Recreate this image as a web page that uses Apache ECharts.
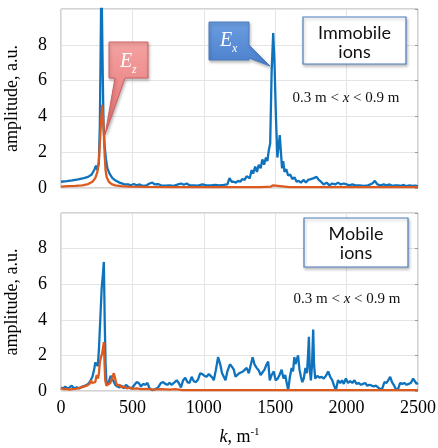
<!DOCTYPE html>
<html>
<head>
<meta charset="utf-8">
<script src="https://cdn.jsdelivr.net/npm/echarts@6/dist/echarts.min.js"></script>
<style>
	html, body { margin: 0; padding: 0; background: #fff; }
	#chart { width: 438px; height: 448px; }
</style>
</head>
<body>
<div id="chart"></div>
<script>
	// k [1/m], amplitude [a.u.]
	var immobileEx = [[0,0.35],[40,0.38],[80,0.42],[120,0.48],[160,0.55],[190,0.62],[215,0.75],[235,1.05],[245,1.25],[255,1.0],[265,1.4],[272,3.5],[278,8],[283,12],[288,12],[293,6],[298,3.5],[305,2.4],[315,1.6],[325,1.1],[340,0.8],[360,0.55],[385,0.4],[410,0.3],[440,0.22],[470,0.2],[490,0.15],[510,0.22],[530,0.15],[550,0.2],[570,0.12],[600,0.15],[620,0.25],[640,0.3],[655,0.2],[680,0.22],[700,0.15],[730,0.13],[760,0.15],[790,0.12],[820,0.2],[840,0.25],[860,0.18],[880,0.25],[900,0.15],[930,0.15],[960,0.13],[990,0.2],[1020,0.15],[1050,0.15],[1080,0.17],[1110,0.15],[1140,0.17],[1165,0.2],[1180,0.55],[1195,0.35],[1210,0.35],[1225,0.3],[1240,0.4],[1255,0.35],[1270,0.5],[1285,0.45],[1300,0.65],[1312,0.75],[1322,0.55],[1335,1.0],[1345,0.8],[1360,1.2],[1372,0.9],[1385,1.3],[1398,1.1],[1410,1.6],[1422,1.3],[1435,1.7],[1445,1.5],[1455,2.1],[1465,2.5],[1475,6.5],[1486,8.65],[1495,7],[1505,4],[1515,1.7],[1522,2.2],[1532,2.95],[1540,2.0],[1548,1.1],[1556,1.5],[1565,0.9],[1578,1.05],[1590,0.7],[1605,0.75],[1620,0.5],[1635,0.6],[1650,0.35],[1665,0.4],[1680,0.3],[1700,0.45],[1715,0.3],[1730,0.45],[1750,0.5],[1770,0.55],[1790,0.62],[1805,0.45],[1820,0.35],[1840,0.2],[1860,0.3],[1880,0.15],[1900,0.25],[1920,0.2],[1940,0.3],[1960,0.2],[1980,0.25],[2000,0.2],[2020,0.15],[2040,0.2],[2060,0.15],[2090,0.15],[2120,0.12],[2150,0.15],[2180,0.25],[2198,0.4],[2215,0.2],[2240,0.15],[2260,0.2],[2280,0.15],[2300,0.2],[2320,0.12],[2340,0.15],[2360,0.15],[2380,0.12],[2400,0.17],[2420,0.1],[2440,0.15],[2460,0.12],[2480,0.13],[2500,0.1]];
	var immobileEz = [[0,0.08],[50,0.1],[100,0.12],[150,0.15],[190,0.22],[220,0.35],[240,0.55],[255,0.9],[265,1.5],[272,2.5],[280,3.6],[288,4.65],[294,4.0],[300,3.0],[306,1.8],[312,1.0],[320,0.6],[335,0.35],[355,0.22],[380,0.15],[420,0.1],[480,0.08],[600,0.06],[800,0.05],[1000,0.05],[1200,0.05],[1400,0.05],[1470,0.08],[1486,0.15],[1500,0.08],[1600,0.05],[2000,0.05],[2500,0.05]];
	var mobileEx = [[0,0.2],[15,0.15],[30,0.25],[45,0.15],[60,0.2],[75,0.3],[90,0.15],[110,0.2],[130,0.15],[150,0.25],[170,0.3],[190,0.4],[205,0.55],[220,0.8],[232,1.2],[240,1.6],[250,1.55],[258,1.4],[266,2.4],[275,4.0],[285,5.8],[293,6.5],[300,7.25],[306,4.0],[312,1.5],[318,0.5],[328,0.35],[338,0.6],[348,0.85],[358,0.9],[368,0.55],[380,0.35],[395,0.25],[410,0.2],[425,0.3],[440,0.15],[455,0.35],[470,0.25],[485,0.15],[500,0.2],[515,0.35],[530,0.5],[545,0.45],[560,0.25],[575,0.4],[590,0.35],[605,0.45],[620,0.15],[640,0.05],[660,0.1],[680,0.2],[700,0.45],[715,0.5],[730,0.4],[745,0.35],[760,0.45],[775,0.35],[790,0.45],[810,0.6],[825,0.45],[840,0.2],[855,0.6],[870,0.75],[885,0.5],[900,0.45],[915,0.8],[930,0.55],[945,0.5],[960,0.65],[975,1.0],[990,0.95],[1005,0.85],[1020,0.8],[1035,0.95],[1045,1.05],[1060,0.75],[1070,0.6],[1085,1.2],[1100,1.9],[1115,1.5],[1128,1.0],[1140,0.8],[1152,0.6],[1165,1.1],[1183,1.5],[1198,1.35],[1210,1.2],[1222,0.8],[1235,0.75],[1248,1.0],[1262,0.95],[1275,1.1],[1288,1.15],[1300,1.3],[1315,1.0],[1330,1.5],[1342,1.9],[1355,1.5],[1370,1.3],[1385,1.15],[1398,0.9],[1410,0.8],[1425,1.2],[1440,1.5],[1451,1.65],[1462,0.6],[1475,0.9],[1490,1.1],[1503,0.6],[1518,0.7],[1530,0.9],[1545,1.2],[1558,0.7],[1570,0.9],[1582,0.4],[1591,0.05],[1603,0.8],[1615,1.3],[1625,1.1],[1634,1.9],[1642,1.5],[1650,1.4],[1660,2.0],[1670,1.2],[1680,0.8],[1690,0.5],[1700,0.7],[1712,1.3],[1722,1.0],[1730,2.0],[1736,3.05],[1742,1.2],[1750,0.6],[1758,1.5],[1766,3.45],[1772,1.5],[1780,0.7],[1795,0.85],[1810,0.75],[1825,0.8],[1840,0.7],[1855,0.85],[1871,1.1],[1885,0.8],[1900,0.6],[1912,0.3],[1925,0.05],[1940,0.6],[1955,0.45],[1968,0.6],[1980,0.4],[1995,0.7],[2010,0.45],[2025,0.55],[2040,0.45],[2055,0.6],[2070,0.4],[2085,0.45],[2100,0.35],[2115,0.4],[2130,0.45],[2145,0.3],[2160,0.35],[2175,0.3],[2190,0.25],[2205,0.3],[2220,0.2],[2235,0.1],[2250,0.15],[2265,0.5],[2280,0.45],[2295,0.65],[2305,0.8],[2318,0.5],[2330,0.35],[2345,0.1],[2360,0.1],[2375,0.45],[2390,0.4],[2405,0.45],[2420,0.35],[2435,0.4],[2450,0.45],[2466,0.7],[2480,0.6],[2490,0.4],[2500,0.45]];
	var mobileEz = [[0,0.15],[20,0.1],[40,0.12],[60,0.08],[80,0.1],[100,0.12],[120,0.15],[140,0.2],[160,0.25],[180,0.3],[200,0.4],[210,0.6],[218,0.45],[228,0.35],[240,0.5],[250,0.9],[258,0.7],[265,0.95],[272,1.6],[280,1.9],[288,2.1],[294,2.0],[300,2.75],[305,1.5],[310,0.6],[318,0.3],[330,0.3],[345,0.45],[358,0.5],[370,1.0],[378,0.95],[385,0.5],[395,0.3],[410,0.35],[425,0.2],[440,0.25],[460,0.15],[480,0.2],[500,0.12],[530,0.15],[560,0.1],[600,0.12],[640,0.08],[700,0.1],[760,0.08],[800,0.1],[850,0.05],[1000,0.05],[1500,0.05],[2000,0.05],[2500,0.05]];

	var kTicks = [0, 500, 1000, 1500, 2000, 2500];
	var ampTicks = [0, 2, 4, 6, 8];   // 10 is the top edge, no label

	var serif = 'Liberation Serif';
	var blue = '#0f72bd';
	var red = '#dd5a1e';

	var myChart = echarts.init(document.getElementById('chart'));

	// same rich setup that came out serif for the range text
	var serifRich = {
		t: { fontFamily: serif, fontSize: 18, fontStyle: 'normal', fill: '#000' },
		i: { fontFamily: serif, fontSize: 18, fontStyle: 'italic', fill: '#000' },
		s: { fontFamily: serif, fontSize: 11, fontStyle: 'normal', fill: '#000', padding: [0, 0, 9, 0] }
	};

	function xAx(idx) {
		return {
			type: 'value', gridIndex: idx, min: 0, max: 2500, interval: 500,
			axisLine: { show: false },
			axisTick: { show: false },
			axisLabel: { show: false },
			splitLine: { show: true, lineStyle: { color: '#e4e4e4', width: 1 } }
		};
	}

	function yAx(idx) {
		return {
			type: 'value', gridIndex: idx, min: 0, max: 10, interval: 2,
			axisLine: { show: false },
			axisTick: { show: false },
			axisLabel: { show: false },
			splitLine: { show: true, lineStyle: { color: '#e4e4e4', width: 1 } }
		};
	}

	// inward ticks on the right frame edge
	function yRight(idx) {
		return {
			type: 'value', gridIndex: idx, min: 0, max: 10, interval: 2, position: 'right',
			axisLine: { show: false },
			axisTick: { show: true, inside: true, length: 3, lineStyle: { color: '#999' } },
			axisLabel: { show: false },
			splitLine: { show: false }
		};
	}

	function lineSeries(name, idx, data, color) {
		return {
			name: name, type: 'line', xAxisIndex: idx, yAxisIndex: idx * 2,
			data: data, showSymbol: false, symbol: 'none', clip: true,
			lineStyle: { color: color, width: 2.3 }, z: 3
		};
	}

	function textBox(x, y, w, h, lines, top) {
		var els = [{
			type: 'rect', shape: { x: x, y: y, width: w, height: h },
			style: { fill: '#fff', stroke: '#4f7fbb', lineWidth: 1.2,
				shadowBlur: 3, shadowOffsetX: 1, shadowOffsetY: 2, shadowColor: 'rgba(0,0,0,0.25)' },
			z: 20
		}];
		lines.forEach(function (t, i) {
			els.push({
				type: 'text', x: x + w / 2, y: top + i * 19, z: 21,
				style: { text: '{b|' + t + '}', align: 'center', verticalAlign: 'middle',
					rich: { b: { fontFamily: 'Lato', fontSize: 18, fill: '#111' } } }
			});
		});
		return els;
	}

	function rangeText(cx, cy) {
		return {
			type: 'text', x: cx, y: cy, z: 21,
			style: {
				text: '{n|0.3 m < }{i|x}{n| < 0.9 m}', align: 'center', verticalAlign: 'middle',
				rich: {
					n: { fontFamily: serif, fontSize: 15, fill: '#111' },
					i: { fontFamily: serif, fontSize: 15, fontStyle: 'italic', fill: '#111' }
				}
			}
		};
	}

	function callout(points, c1, c2, stroke, ex, ey, sub) {
		return [{
			type: 'polygon', shape: { points: points }, z: 22,
			style: {
				fill: new echarts.graphic.LinearGradient(0, 0, 0, 1, [
					{ offset: 0, color: c1 }, { offset: 1, color: c2 }
				]),
				stroke: stroke, lineWidth: 1,
				shadowBlur: 3, shadowOffsetX: 1, shadowOffsetY: 2, shadowColor: 'rgba(0,0,0,0.25)'
			}
		}, {
			type: 'text', x: ex, y: ey, z: 23,
			style: { text: 'E', fontFamily: serif, fontSize: 20, fontStyle: 'italic', fill: '#fff',
				align: 'left', verticalAlign: 'middle' }
		}, {
			type: 'text', x: ex + 12, y: ey + 8, z: 23,
			style: { text: sub, fontFamily: serif, fontSize: 12, fontStyle: 'italic', fill: '#fff',
				align: 'left', verticalAlign: 'middle' }
		}];
	}

	function serifText(x, y, text, align, vAlign, rot) {
		return {
			type: 'text', x: x, y: y, rotation: rot || 0, z: 22,
			style: { text: text, align: align, verticalAlign: vAlign, rich: serifRich }
		};
	}

	myChart.setOption({
		backgroundColor: '#fff',
		animation: false,
		grid: [
			{ left: 61, top: 9, width: 357, height: 179, show: true, borderColor: '#a8a8a8', borderWidth: 1, backgroundColor: '#fff' },
			{ left: 61, top: 213, width: 357, height: 178, show: true, borderColor: '#a8a8a8', borderWidth: 1, backgroundColor: '#fff' }
		],
		xAxis: [xAx(0), xAx(1)],
		yAxis: [yAx(0), yRight(0), yAx(1), yRight(1)],
		series: [
			lineSeries('Ex', 0, immobileEx, blue),
			lineSeries('Ez', 0, immobileEz, red),
			lineSeries('Ex', 1, mobileEx, blue),
			lineSeries('Ez', 1, mobileEz, red)
		]
	});

	// axis texts placed through the axes' own scales
	var axisTexts = [];
	kTicks.forEach(function (k) {
		var p = myChart.convertToPixel({ xAxisIndex: 1, yAxisIndex: 2 }, [k, 0]);
		axisTexts.push(serifText(p[0], p[1] + 8, '{t|' + k + '}', 'center', 'top'));
	});
	[0, 1].forEach(function (g) {
		ampTicks.forEach(function (a) {
			var p = myChart.convertToPixel({ xAxisIndex: g, yAxisIndex: g * 2 }, [0, a]);
			axisTexts.push(serifText(p[0] - 14, p[1], '{t|' + a + '}', 'right', 'middle'));
		});
		var mid = myChart.convertToPixel({ xAxisIndex: g, yAxisIndex: g * 2 }, [0, 5]);
		axisTexts.push(serifText(12, mid[1], '{t|amplitude, a.u.}', 'center', 'middle', Math.PI / 2));
	});
	var xMid = myChart.convertToPixel({ xAxisIndex: 1, yAxisIndex: 2 }, [1250, 0]);
	axisTexts.push(serifText(xMid[0], xMid[1] + 46, '{i|k}{t|, m}{s|-1}', 'center', 'middle'));

	var graphics = []
		.concat(textBox(303, 17, 103, 47, ['Immobile', 'ions'], 33))
		.concat(textBox(304, 218, 104, 49, ['Mobile', 'ions'], 234))
		.concat([rangeText(346, 98), rangeText(347, 299)])
		.concat(callout([[209, 22], [249, 22], [249, 45], [270, 66], [249, 58], [249, 60], [209, 60]],
			'#6c9de0', '#4a7fcc', '#4a7cc0', 220, 41, 'x'))
		.concat(callout([[109, 42], [148, 42], [148, 78], [125, 78], [105, 135], [115, 78], [109, 78]],
			'#f4a2a2', '#e66f6f', '#d06060', 120, 62, 'z'))
		.concat(axisTexts);

	myChart.setOption({ graphic: graphics });
</script>
</body>
</html>
